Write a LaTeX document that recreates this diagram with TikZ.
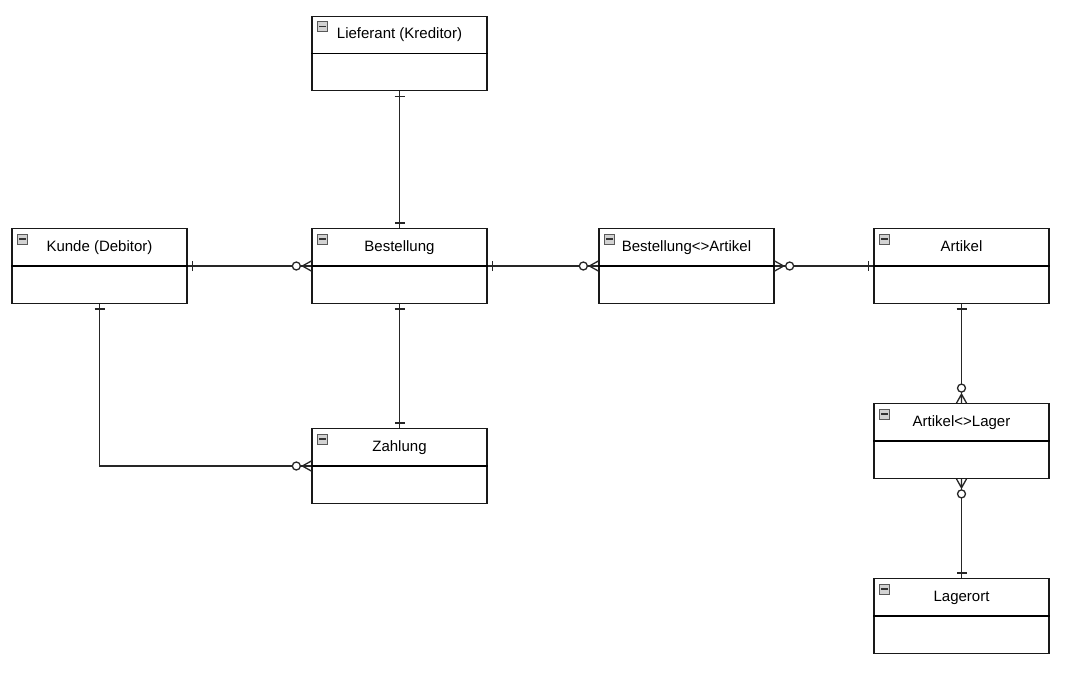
\documentclass[tikz,border=0pt]{standalone}
\usepackage{fontspec}
\setmainfont{Liberation Sans}
\begin{document}
\begin{tikzpicture}[x=1pt,y=1pt,
  entity/.style={draw=black!90, line width=1.3pt, minimum width=175pt, minimum height=74.5pt, inner sep=0pt, fill=white},
  etitle/.style={inner sep=0pt, font=\fontsize{15}{17}\selectfont, anchor=base},
  conn/.style={draw=black!85, line width=1.3pt},
  iconmark/.pic={\draw[gray!70!black, fill=gray!35, line width=0.7pt] (0,0) rectangle (10,-10);
                 \draw[black!80, line width=1.4pt] (1.8,-5) -- (8.2,-5);},
  onemark/.pic={\draw[black!85, line width=1.3pt] (5,-5) -- (5,5);},
  zmanymark/.pic={\draw[black!85, line width=1.3pt] (0,5) -- (9,0) -- (0,-5) (0,0) -- (9,0);
                  \draw[black!85, line width=1.3pt, fill=white] (15,0) circle (4);}
]
\useasboundingbox (0,0) rectangle (1071,-673);

% entities
\foreach \n/\x/\y/\t in {lief/399.5/-53.5/{Lieferant (Kreditor)},
                         kunde/99.5/-266/{Kunde (Debitor)},
                         best/399.5/-266/{Bestellung},
                         ba/686.5/-266/{Bestellung<>Artikel},
                         art/961.5/-266/{Artikel},
                         al/961.5/-441/{Artikel<>Lager},
                         lager/961.5/-616/{Lagerort},
                         zahl/399.5/-466/{Zahlung}}{
  \node[entity] (\n) at (\x,\y) {};
  \draw[line width=1.3pt] (\n.west) -- (\n.east);
  \node[etitle] (\n-t) at ([yshift=-23pt]\n.north) {\t};
  \pic at ([xshift=6pt,yshift=-6pt]\n.north west) {iconmark};
}

% connectors
\draw[conn] (lief.south) -- (best.north);
\pic[rotate=-90] at (lief.south) {onemark};
\pic[rotate=90] at (best.north) {onemark};

\draw[conn] (kunde.east) -- (best.west);
\pic at (kunde.east) {onemark};
\pic[rotate=180] at (best.west) {zmanymark};

\draw[conn] (best.east) -- (ba.west);
\pic at (best.east) {onemark};
\pic[rotate=180] at (ba.west) {zmanymark};

\draw[conn] (ba.east) -- (art.west);
\pic at (ba.east) {zmanymark};
\pic[rotate=180] at (art.west) {onemark};

\draw[conn] (best.south) -- (zahl.north);
\pic[rotate=-90] at (best.south) {onemark};
\pic[rotate=90] at (zahl.north) {onemark};

\draw[conn] (kunde.south) |- (zahl.west);
\pic[rotate=-90] at (kunde.south) {onemark};
\pic[rotate=180] at (zahl.west) {zmanymark};

\draw[conn] (art.south) -- (al.north);
\pic[rotate=-90] at (art.south) {onemark};
\pic[rotate=90] at (al.north) {zmanymark};

\draw[conn] (al.south) -- (lager.north);
\pic[rotate=-90] at (al.south) {zmanymark};
\pic[rotate=90] at (lager.north) {onemark};
\end{tikzpicture}
\end{document}
